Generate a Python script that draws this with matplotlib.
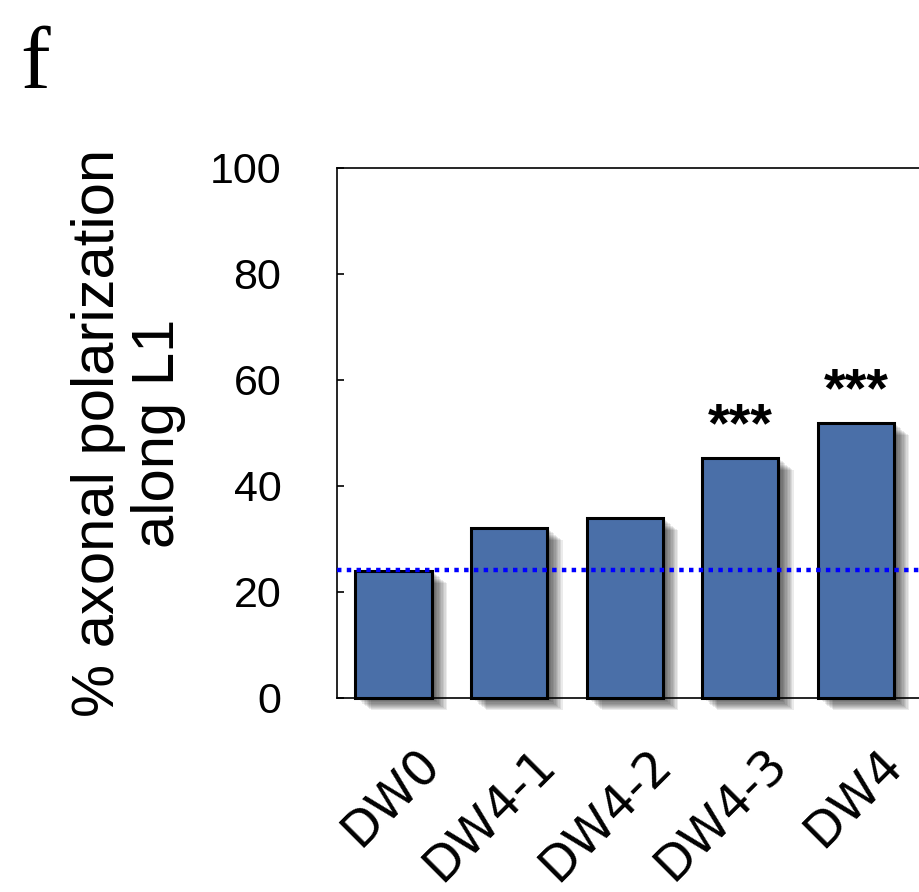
import matplotlib
matplotlib.use('Agg')
import matplotlib.pyplot as plt
import matplotlib.patheffects as pe
from matplotlib.transforms import ScaledTranslation

## data
groups = ['DW0', 'DW4-1', 'DW4-2', 'DW4-3', 'DW4']
pct_axonal = [24.0, 32.1, 34.0, 45.3, 51.9]
signif = ['', '', '', '***', '***']
baseline = 24.2
yticks = [0, 20, 40, 60, 80, 100]

fig = plt.figure(figsize=(9.19, 8.92), dpi=100)
ax = fig.add_axes([0.3667, 0.2175, 0.64, 0.5942])

## blurred drop shadow, approximated by a stack of offset translucent copies
shadow = [pe.SimplePatchShadow(offset=(o, -o * 0.8), shadow_rgbFace='k', alpha=0.08)
          for o in (1, 2, 3, 4, 5, 6, 7, 8, 9, 10, 11)]
bars = ax.bar(range(len(groups)), pct_axonal, width=0.66, color='#4a6fa8',
              edgecolor='black', linewidth=2.2, zorder=2, clip_on=False,
              path_effects=shadow + [pe.Normal()])

ax.axhline(baseline, color='#0000ff', linestyle=(0, (1, 1.2)), linewidth=3.2, zorder=3)

for i, s in enumerate(signif):
    if s:
        ax.text(i, pct_axonal[i] + 5.8, s, ha='center', va='center',
                fontsize=40, fontweight='bold', family='Liberation Sans')

ax.set_xlim(-0.49, 4.6)
ax.set_ylim(0, 100)
ax.set_yticks(yticks)
ax.set_yticklabels([str(t) for t in yticks], fontsize=31, family='Liberation Sans')
ax.tick_params(axis='y', direction='in', length=5, width=1.2, pad=40)
ax.set_xticks(range(len(groups)))
ax.set_xticklabels(groups, rotation=45, ha='right', va='top', rotation_mode='anchor',
                   fontsize=35, family='DejaVu Sans')
ax.tick_params(axis='x', length=0, pad=30)
for lbl in ax.get_xticklabels():
    lbl.set_transform(lbl.get_transform() + ScaledTranslation(0.22, 0, fig.dpi_scale_trans))
for sp in ax.spines.values():
    sp.set_linewidth(1.2)

ax.set_ylabel('% axonal polarization\nalong L1', fontsize=43, family='Liberation Sans',
              linespacing=1.12)
ax.yaxis.set_label_coords(-0.256, 0.5)

fig.text(0.022, 0.901, 'f', fontsize=64, family='Liberation Serif', va='baseline')

plt.savefig('out.png', dpi=100)
